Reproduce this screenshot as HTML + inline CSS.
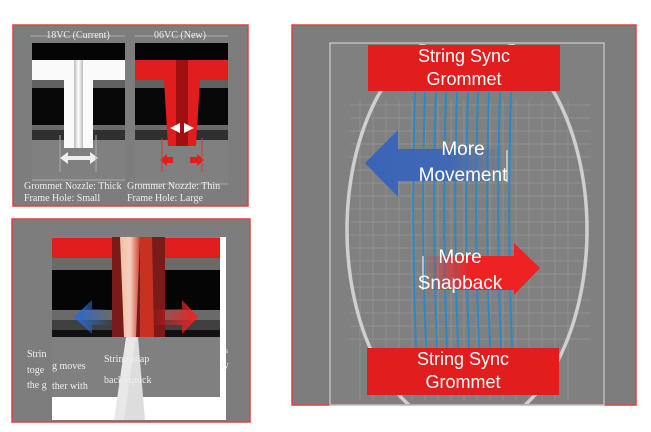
<!DOCTYPE html>
<html><head><meta charset="utf-8"><style>
body{margin:0;background:#fff;width:651px;height:432px;overflow:hidden}
svg{display:block}
text{font-family:"Liberation Serif",serif;fill:#eee}
.s{font-family:"Liberation Sans",sans-serif;fill:#fff}
</style></head><body>
<svg width="651" height="432" viewBox="0 0 651 432">
<defs>
<clipPath id="cp"><rect x="331" y="44" width="272" height="360"/></clipPath>
<linearGradient id="bl" x1="0" x2="1"><stop offset="0" stop-color="#3a64b8"/><stop offset="0.6" stop-color="#4068b4"/><stop offset="1" stop-color="#4068b4" stop-opacity="0"/></linearGradient>
<linearGradient id="rd" x1="0" x2="1"><stop offset="0" stop-color="#e22" stop-opacity="0"/><stop offset="0.4" stop-color="#e22"/><stop offset="1" stop-color="#e22"/></linearGradient>
<linearGradient id="bl2" x1="1" x2="0"><stop offset="0" stop-color="#2a6ad0" stop-opacity="0"/><stop offset="1" stop-color="#2a6ad0"/></linearGradient>
<linearGradient id="rd2" x1="0" x2="1"><stop offset="0" stop-color="#e22" stop-opacity="0"/><stop offset="1" stop-color="#e22"/></linearGradient>
<linearGradient id="wt" x1="0" x2="1"><stop offset="0" stop-color="#bbb"/><stop offset="0.5" stop-color="#fff"/><stop offset="1" stop-color="#bbb"/></linearGradient>
<linearGradient id="st" x1="0" x2="1"><stop offset="0" stop-color="#f0c0a0"/><stop offset="0.5" stop-color="#f5d0c0"/><stop offset="1" stop-color="#d04030"/></linearGradient>
</defs>

<!-- Panel 1 -->
<rect x="13" y="25" width="235" height="181" fill="#7d7d7d" stroke="#e04040" stroke-width="1.5"/>
<rect x="32" y="43" width="93" height="140" fill="#808080"/>
<rect x="32" y="43" width="93" height="17" fill="#050505"/>
<rect x="32" y="80" width="93" height="8" fill="#606060"/>
<rect x="32" y="88" width="93" height="37" fill="#080808"/>
<rect x="32" y="125" width="93" height="5" fill="#6a6a6a"/>
<rect x="32" y="130" width="93" height="10" fill="#303030"/>
<path d="M32 60H125V80H93V148H64V80H32Z" fill="#fafafa"/>
<rect x="74" y="60" width="9" height="88" fill="url(#wt)"/>
<path d="M60 158L68 152V156H90V152L98 158L90 164V160H68V164Z" fill="#eee"/>
<line x1="60" y1="135" x2="60" y2="172" stroke="#aaa"/><line x1="96" y1="135" x2="96" y2="172" stroke="#aaa"/>
<rect x="135" y="43" width="93" height="140" fill="#808080"/>
<rect x="135" y="43" width="93" height="17" fill="#050505"/>
<rect x="135" y="80" width="93" height="8" fill="#606060"/>
<rect x="135" y="88" width="93" height="37" fill="#080808"/>
<rect x="135" y="125" width="93" height="5" fill="#6a6a6a"/>
<rect x="135" y="130" width="93" height="10" fill="#303030"/>
<path d="M135 60H228V80H200L196 146H168L164 80H135Z" fill="#e21d1d"/>
<rect x="176" y="60" width="12" height="86" fill="#a01010"/>
<path d="M170 128L180 123V133Z" fill="#fff"/><path d="M194 128L184 123V133Z" fill="#fff"/>
<path d="M160 160L167 154V157H173V163H167V166Z" fill="#e21d1d"/><path d="M204 160L197 154V157H190V163H197V166Z" fill="#e21d1d"/>
<line x1="162" y1="138" x2="162" y2="172" stroke="#d33"/><line x1="202" y1="138" x2="202" y2="172" stroke="#d33"/>
<line x1="30" y1="36" x2="125" y2="36" stroke="#bbb" stroke-width="0.7"/>
<line x1="135" y1="36" x2="228" y2="36" stroke="#bbb" stroke-width="0.7"/>
<text x="78" y="38" font-size="10" text-anchor="middle">18VC (Current)</text>
<text x="180" y="38" font-size="10" text-anchor="middle">06VC (New)</text>
<line x1="32" y1="180" x2="125" y2="180" stroke="#bbb" stroke-width="0.7"/>
<line x1="135" y1="184" x2="228" y2="184" stroke="#bbb" stroke-width="0.7"/>
<text x="24" y="189" font-size="10">Grommet Nozzle: Thick</text>
<text x="24" y="201" font-size="10">Frame Hole: Small</text>
<text x="127" y="189" font-size="10">Grommet Nozzle: Thin</text>
<text x="127" y="201" font-size="10">Frame Hole: Large</text>

<!-- Panel 2 -->
<rect x="12" y="219" width="238" height="203" fill="#7d7d7d" stroke="#e04040" stroke-width="1.5"/>
<rect x="52" y="237" width="174" height="183" fill="#fff"/>
<rect x="52" y="237" width="168" height="160" fill="#808080"/>
<rect x="52" y="238" width="168" height="20" fill="#e21d1d"/>
<rect x="52" y="258" width="168" height="12" fill="#6a6a6a"/>
<rect x="52" y="270" width="168" height="40" fill="#050505"/>
<rect x="52" y="310" width="168" height="10" fill="#6a6a6a"/>
<rect x="52" y="320" width="168" height="10" fill="#404040"/>
<rect x="52" y="330" width="168" height="7" fill="#101010"/>
<path d="M112 237H165V337H112Z" fill="#7a1a1a"/>
<path d="M120 237H140L136 337H124Z" fill="url(#st)"/>
<path d="M140 237H152L154 337H140Z" fill="#c83020"/>
<path d="M128 337L138 337L145 420H120Z" fill="#ddd"/>
<path d="M126 337L136 337L124 420H114Z" fill="#e8e8e8"/>
<path d="M74 317L92 300V309H112V325H92V334Z" fill="url(#bl2)"/>
<path d="M198 317L182 300V309H150V325H182V334Z" fill="url(#rd2)"/>
<text x="27" y="357" font-size="10">Strin</text>
<text x="27" y="373" font-size="10">toge</text>
<text x="27" y="388" font-size="10">the g</text>
<text x="52" y="369" font-size="10">g moves</text>
<text x="52" y="389" font-size="10">ther with</text>
<text x="104" y="362" font-size="10">String snap</text>
<text x="104" y="383" font-size="10">backs quick</text>
<text x="221" y="368" font-size="10">ly</text>
<text x="225" y="353" font-size="8">s</text>

<!-- Panel 3 -->
<rect x="292" y="25" width="344" height="380" fill="#7d7d7d" stroke="#e04040" stroke-width="1.5"/>
<rect x="330" y="43" width="274" height="362" fill="#808080" stroke="#ddd" stroke-width="1"/>
<g stroke="#9a9a9a" stroke-width="0.7" opacity="0.8">
<path d="M360 100V400M373 100V400M386 100V400M399 100V400M412 100V400M425 100V400M438 100V400M451 100V400M464 100V400M477 100V400M490 100V400M503 100V400M516 100V400M529 100V400M542 100V400M555 100V400M568 100V400"/>
<path d="M350 105H590M350 118H590M350 131H590M350 144H590M350 157H590M350 170H590M350 183H590M350 196H590M350 209H590M350 222H590M350 235H590M350 248H590M350 261H590M350 274H590M350 287H590M350 300H590M350 313H590M350 326H590M350 339H590"/>
</g>
<ellipse clip-path="url(#cp)" cx="467" cy="230" rx="120" ry="200" fill="none" stroke="#cfcfcf" stroke-width="3.5"/>
<g stroke="#2a8ac8" stroke-width="2" fill="none">
<path d="M415 92Q411 220 416 348"/><path d="M425 92Q421 220 426 348"/><path d="M436 92Q432 220 437 348"/><path d="M446 92Q442 220 447 348"/><path d="M457 92Q453 220 458 348"/><path d="M468 92Q464 220 469 348"/><path d="M478 92Q474 220 479 348"/><path d="M489 92Q485 220 490 348"/><path d="M500 92Q496 220 501 348"/><path d="M511 92Q507 220 512 348"/>
</g>
<path d="M365 163L398 130V149H505V181H398V197Z" fill="url(#bl)"/>
<path d="M423 256H514V243L540 268L514 295V290H423Z" fill="url(#rd)"/>
<line x1="507" y1="150" x2="507" y2="182" stroke="#fff"/>
<line x1="423" y1="256" x2="423" y2="290" stroke="#fff"/>
<rect x="368" y="45" width="192" height="46" fill="#e21d1d"/>
<rect x="367" y="348" width="192" height="47" fill="#e21d1d"/>
<text class="s" x="464" y="62" font-size="18" text-anchor="middle">String Sync</text>
<text class="s" x="464" y="85" font-size="18" text-anchor="middle">Grommet</text>
<text class="s" x="463" y="365" font-size="18" text-anchor="middle">String Sync</text>
<text class="s" x="463" y="388" font-size="18" text-anchor="middle">Grommet</text>
<text class="s" x="463" y="155" font-size="19" text-anchor="middle">More</text>
<text class="s" x="463" y="181" font-size="19" text-anchor="middle">Movement</text>
<text class="s" x="460" y="263" font-size="19" text-anchor="middle">More</text>
<text class="s" x="460" y="289" font-size="19" text-anchor="middle">Snapback</text>
</svg>
</body></html>
